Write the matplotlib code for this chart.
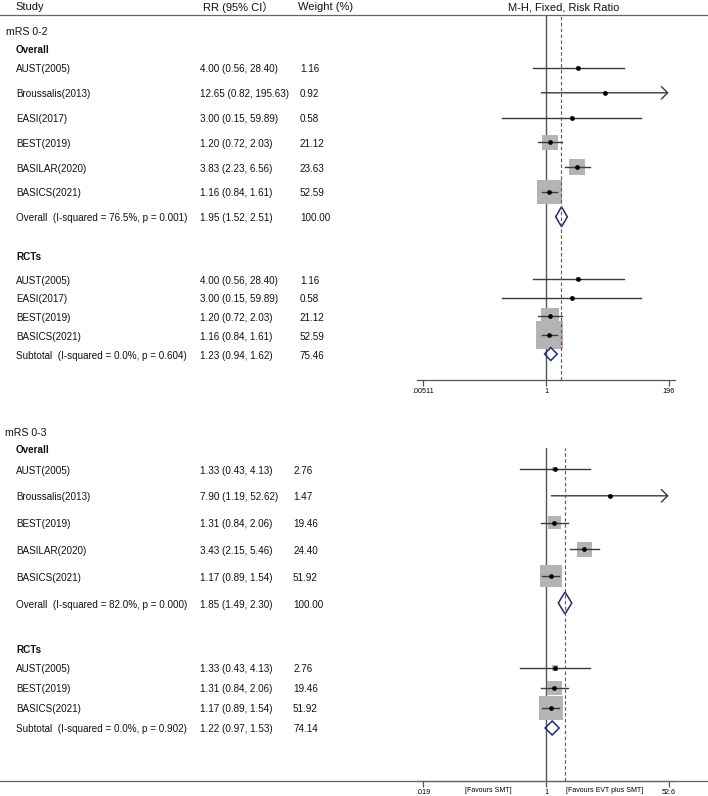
import matplotlib
matplotlib.use("Agg")
import matplotlib.pyplot as plt
from matplotlib.lines import Line2D
from matplotlib.patches import Polygon
from matplotlib.ticker import NullLocator
import numpy as np

plt.rcParams['font.family'] = ['Liberation Sans', 'Noto Sans CJK SC', 'DejaVu Sans']

# ---- data: mRS 0-2 ----
studies_02 = ["AUST(2005)", "Broussalis(2013)", "EASI(2017)", "BEST(2019)", "BASILAR(2020)", "BASICS(2021)"]
rr_02 = [4.00, 12.65, 3.00, 1.20, 3.83, 1.16]
lo_02 = [0.56, 0.82, 0.15, 0.72, 2.23, 0.84]
hi_02 = [28.40, 195.63, 59.89, 2.03, 6.56, 1.61]
w_02 = [1.16, 0.92, 0.58, 21.12, 23.63, 52.59]
pool_02 = [1.95, 1.52, 2.51, 100.00]
pool_02_label = "Overall  (I-squared = 76.5%, p = 0.001)"
rct_02 = ["AUST(2005)", "EASI(2017)", "BEST(2019)", "BASICS(2021)"]
sub_02 = [1.23, 0.94, 1.62, 75.46]
sub_02_label = "Subtotal  (I-squared = 0.0%, p = 0.604)"
ticks_02 = [0.00511, 1, 196]
ticklabels_02 = [".00511", "1", "196"]

# ---- data: mRS 0-3 ----
studies_03 = ["AUST(2005)", "Broussalis(2013)", "BEST(2019)", "BASILAR(2020)", "BASICS(2021)"]
rr_03 = [1.33, 7.90, 1.31, 3.43, 1.17]
lo_03 = [0.43, 1.19, 0.84, 2.15, 0.89]
hi_03 = [4.13, 52.62, 2.06, 5.46, 1.54]
w_03 = [2.76, 1.47, 19.46, 24.40, 51.92]
pool_03 = [1.85, 1.49, 2.30, 100.00]
pool_03_label = "Overall  (I-squared = 82.0%, p = 0.000)"
rct_03 = ["AUST(2005)", "BEST(2019)", "BASICS(2021)"]
sub_03 = [1.22, 0.97, 1.53, 74.14]
sub_03_label = "Subtotal  (I-squared = 0.0%, p = 0.902)"
ticks_03 = [0.019, 1, 52.6]
ticklabels_03 = [".019", "1", "52.6"]

W, H = 708, 796
fig = plt.figure(figsize=(W / 100, H / 100), dpi=100)

LINE = '#3a3a3a'
BOX = '#b4b4b4'
NAVY = '#1f2a7a'
RED = '#c0392b'


def fx(px):
    return px / W


def fy(py):
    return 1 - py / H


def txt(x, y, s, size=7.1, **kw):
    fig.text(fx(x), fy(y), s, fontsize=size, va='center', ha='left', color='#111111', **kw)


def make_axes(top, bottom, ticks, labels):
    ax = fig.add_axes([fx(417), fy(bottom), fx(675) - fx(417), (bottom - top) / H])
    ax.set_xscale('log')
    a, b = np.log(ticks[0]), np.log(ticks[-1])
    pad = 0.026 * (b - a)
    ax.set_xlim(np.exp(a - pad), np.exp(b + pad))
    ax.set_ylim(bottom, top)
    for s in ['top', 'left', 'right']:
        ax.spines[s].set_visible(False)
    ax.spines['bottom'].set_color('#555555')
    ax.spines['bottom'].set_linewidth(0.9)
    ax.set_yticks([])
    ax.set_xticks(ticks)
    ax.set_xticklabels(labels)
    ax.xaxis.set_minor_locator(NullLocator())
    ax.tick_params(axis='x', length=4, width=0.9, color='#555555', labelsize=5.2, pad=1.5)
    ax.patch.set_alpha(0)
    return ax


def study(ax, y, rr, lo, hi, w, k, tmax):
    side = k * np.sqrt(w) * 0.72
    ax.scatter([rr], [y], marker='s', s=side ** 2, color=BOX, edgecolors='none', zorder=2)
    if hi >= tmax * 0.99:
        ax.annotate('', xy=(tmax, y), xytext=(lo, y),
                    arrowprops=dict(arrowstyle='->,head_length=0.45,head_width=0.45',
                                    color=LINE, lw=1.0, shrinkA=0, shrinkB=0), zorder=3)
    else:
        ax.plot([lo, hi], [y, y], color=LINE, lw=1.0, zorder=3)
    ax.plot([rr], [y], 'o', ms=2.4, color='black', zorder=4)


def diamond(ax, y, rr, lo, hi, half):
    ax.add_patch(Polygon([[lo, y], [rr, y - half], [hi, y], [rr, y + half]], closed=True,
                         fc='none', ec=NAVY, lw=1.1, zorder=5))


def row_text(y, name, rr, lo, hi, w, xw):
    txt(16, y, name)
    txt(200, y, f"{rr:.2f} ({lo:.2f}, {hi:.2f})")
    txt(xw, y, f"{w:.2f}")


def panel(ax, names, rr, lo, hi, w, pool, pool_label, rct, sub, sub_label, ticks,
          y0, step, ry0, rstep, k, rk, dh, sdh, xw):
    tmax = ticks[-1]
    ax.axvline(1, color='#555555', lw=1.0, zorder=1)
    ax.axvline(pool[0], color=RED, lw=0.85, ls=(0, (3, 2)), zorder=6)
    for i, n in enumerate(names):
        y = y0 + i * step
        study(ax, y, rr[i], lo[i], hi[i], w[i], k, tmax)
        row_text(y + 1.5, n, rr[i], lo[i], hi[i], w[i], xw)
    yp = y0 + len(names) * step
    diamond(ax, yp, pool[0], pool[1], pool[2], dh)
    row_text(yp + 1.5, pool_label, *pool, xw)
    for j, n in enumerate(rct):
        i = names.index(n)
        y = ry0 + j * rstep
        study(ax, y, rr[i], lo[i], hi[i], w[i], rk, tmax)
        row_text(y + 1.5, n, rr[i], lo[i], hi[i], w[i], xw)
    ys = ry0 + len(rct) * rstep
    diamond(ax, ys, sub[0], sub[1], sub[2], sdh)
    row_text(ys + 1.5, sub_label, *sub, xw)


# header
txt(15, 7, "Study", size=8)
txt(203, 7, "RR (95% CI）", size=8)
txt(298, 7, "Weight (%)", size=8)
txt(508, 7, "M-H, Fixed, Risk Ratio", size=8)
fig.add_artist(Line2D([0, 1], [fy(15), fy(15)], color='#666666', lw=0.9, transform=fig.transFigure))

# top panel
ax1 = make_axes(15, 380, ticks_02, ticklabels_02)
txt(6, 32, "mRS 0-2", size=7.6)
txt(16, 50, "Overall", size=7.1, fontweight='bold')
txt(16, 257, "RCTs", size=7.1, fontweight='bold')
panel(ax1, studies_02, rr_02, lo_02, hi_02, w_02, pool_02, pool_02_label,
      rct_02, sub_02, sub_02_label, ticks_02,
      68, 24.8, 279, 18.75, 3.4, 3.8, 10, 6.5, 300)

# bottom panel
ax2 = make_axes(448, 781, ticks_03, ticklabels_03)
txt(5, 433, "mRS 0-3", size=7.6)
txt(16, 450, "Overall", size=7.1, fontweight='bold')
txt(16, 650, "RCTs", size=7.1, fontweight='bold')
panel(ax2, studies_03, rr_03, lo_03, hi_03, w_03, pool_03, pool_03_label,
      rct_03, sub_03, sub_03_label, ticks_03,
      469, 26.8, 668, 20, 3.0, 3.35, 11, 7, 293)
fig.add_artist(Line2D([0, 1], [fy(781), fy(781)], color='#666666', lw=0.9, transform=fig.transFigure))
fig.text(fx(488), fy(791), "[Favours SMT]", fontsize=5.0, ha='center', va='center')
fig.text(fx(605), fy(791), "[Favours EVT plus SMT]", fontsize=5.0, ha='center', va='center')

fig.savefig("out.png", dpi=100)
